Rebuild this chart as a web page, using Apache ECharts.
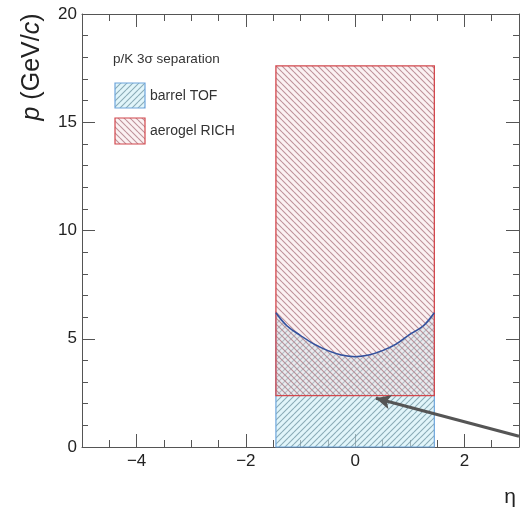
<!DOCTYPE html>
<html><head><meta charset="utf-8">
<script src="https://cdn.jsdelivr.net/npm/echarts@6/dist/echarts.min.js"></script>
<style>html,body{margin:0;padding:0;background:#fff}#c{width:520px;height:509px}</style>
</head><body><div id="c"></div>
<script>
// ---- data ----
const xRange = [-5, 3];
const yRange = [0, 20];
const xTickLabels = [-4, -2, 0, 2];
const yTickLabels = [0, 5, 10, 15, 20];
const etaEdges = [-1.45, 1.45];           // acceptance in eta
const richRange = [2.37, 17.6];           // aerogel RICH p range
const tofEta = [-1.45, -1.25, -1.0, -0.75, -0.5, -0.25, 0, 0.25, 0.5, 0.75, 1.0, 1.25, 1.45];
const tofP   = [6.2, 5.6, 5.15, 4.75, 4.45, 4.25, 4.17, 4.25, 4.45, 4.75, 5.2, 5.6, 6.2];
const arrowFrom = [3.0, 0.5];
const arrowTo = [0.38, 2.25];
const legendHeader = 'p/K 3σ separation';
const legendNames = ['barrel TOF', 'aerogel RICH'];

// ---- styling helpers ----
const FONT = "'Liberation Sans', Arial, Helvetica, sans-serif";
function hatch(dir, s, lineColor, bg, lw) {
  const c = document.createElement('canvas'); c.width = s; c.height = s;
  const g = c.getContext('2d');
  if (bg) { g.fillStyle = bg; g.fillRect(0, 0, s, s); }
  g.strokeStyle = lineColor; g.lineWidth = lw;
  g.beginPath();
  for (let k = -1; k <= 1; k++) {
    if (dir === 'back') { g.moveTo(0, k * s); g.lineTo(s, s + k * s); }
    else { g.moveTo(0, s + k * s); g.lineTo(s, k * s); }
  }
  g.stroke();
  return { image: c, repeat: 'repeat' };
}
const redFill = hatch('back', 6, 'rgba(170,115,125,0.75)', 'rgba(246,220,222,0.4)', 1.1);
const blueFill = hatch('fwd', 6, 'rgba(110,148,162,0.75)', 'rgba(205,238,246,0.6)', 1.1);
const redStroke = '#d2474c';
const blueStroke = '#6ea6dc';
const axisColor = '#555';

const gridA = { left: 82, right: 1, top: 14, bottom: 62 };
const unit = (520 - gridA.left - gridA.right) / (xRange[1] - xRange[0]);
const gridB = {
  left: gridA.left + (xTickLabels[0] - xRange[0]) * unit,
  right: gridA.right + (xRange[1] - xTickLabels[xTickLabels.length - 1]) * unit,
  top: 14, bottom: 62
};

const minus = v => String(v).replace('-', '\u2212');
const line = { onZero: false, lineStyle: { color: axisColor } };

const chart = echarts.init(document.getElementById('c'));
chart.setOption({
  animation: false,
  backgroundColor: '#fff',
  grid: [gridA, gridB],
  xAxis: [
    { gridIndex: 0, type: 'value', position: 'bottom', min: xRange[0], max: xRange[1], interval: 0.5,
      axisLine: line, axisTick: { inside: true, length: 7, lineStyle: { color: axisColor } },
      axisLabel: { show: false }, splitLine: { show: false } },
    { gridIndex: 0, type: 'value', position: 'top', min: xRange[0], max: xRange[1], interval: 0.5,
      axisLine: line, axisTick: { inside: true, length: 7, lineStyle: { color: axisColor } },
      axisLabel: { show: false }, splitLine: { show: false } },
    { gridIndex: 1, type: 'value', position: 'bottom', min: xTickLabels[0], max: xTickLabels[xTickLabels.length - 1], interval: 2,
      axisLine: { show: false, onZero: false }, axisTick: { show: true, inside: true, length: 13, lineStyle: { color: axisColor } },
      axisLabel: { show: true, fontSize: 17, color: '#222', fontFamily: FONT, margin: 6, formatter: minus },
      splitLine: { show: false } },
    { gridIndex: 1, type: 'value', position: 'top', min: xTickLabels[0], max: xTickLabels[xTickLabels.length - 1], interval: 2,
      axisLine: { show: false, onZero: false }, axisTick: { show: true, inside: true, length: 13, lineStyle: { color: axisColor } },
      axisLabel: { show: false }, splitLine: { show: false } }
  ],
  yAxis: [
    { gridIndex: 0, type: 'value', position: 'left', min: yRange[0], max: yRange[1], interval: 5,
      axisLine: Object.assign({ show: true }, line),
      axisTick: { show: true, inside: true, length: 13, lineStyle: { color: axisColor } },
      minorTick: { show: true, splitNumber: 5, length: 6, lineStyle: { color: axisColor } },
      axisLabel: { fontSize: 17, color: '#222', fontFamily: FONT, margin: 5,
        formatter: v => yTickLabels.includes(v) ? String(v) : '' },
      splitLine: { show: false } },
    { gridIndex: 0, type: 'value', position: 'right', min: yRange[0], max: yRange[1], interval: 5,
      axisLine: Object.assign({ show: true }, line),
      axisTick: { show: true, inside: true, length: 13, lineStyle: { color: axisColor } },
      minorTick: { show: true, splitNumber: 5, length: 6, lineStyle: { color: axisColor } },
      axisLabel: { show: false }, splitLine: { show: false } },
    { gridIndex: 1, type: 'value', show: false, min: yRange[0], max: yRange[1], axisLine: { onZero: false } }
  ],
  series: [
    { name: legendNames[0], type: 'custom', xAxisIndex: 0, yAxisIndex: 0, z: 2,
      data: [[etaEdges[0], 0]],
      renderItem: (params, api) => {
        const pts = [api.coord([etaEdges[0], 0])];
        tofEta.forEach((e, i) => pts.push(api.coord([e, tofP[i]])));
        pts.push(api.coord([etaEdges[1], 0]));
        return { type: 'polygon', shape: { points: pts },
          style: { fill: blueFill, stroke: blueStroke, lineWidth: 1.2 } };
      } },
    { name: legendNames[1], type: 'custom', xAxisIndex: 0, yAxisIndex: 0, z: 3,
      data: [[etaEdges[0], richRange[0], etaEdges[1], richRange[1]]],
      renderItem: (params, api) => {
        const a = api.coord([api.value(0), api.value(1)]);
        const b = api.coord([api.value(2), api.value(3)]);
        return { type: 'rect',
          shape: { x: a[0], y: b[1], width: b[0] - a[0], height: a[1] - b[1] },
          style: { fill: redFill, stroke: redStroke, lineWidth: 1.3 } };
      } },
    { type: 'line', xAxisIndex: 0, yAxisIndex: 0, z: 4,
      data: tofEta.map((e, i) => [e, tofP[i]]),
      smooth: 0.4, showSymbol: false, silent: true,
      lineStyle: { color: '#33509c', width: 1.5 },
      markLine: { silent: true, symbol: ['none', 'arrow'], symbolSize: [11, 15], animation: false,
        lineStyle: { color: '#555', width: 3, type: 'solid' }, label: { show: false },
        data: [[{ coord: arrowFrom }, { coord: arrowTo }]] } }
  ],
  graphic: [
    { type: 'text', x: 113, y: 59, style: { text: legendHeader, font: `13.5px ${FONT}`, fill: '#333', textVerticalAlign: 'middle' } },
    { type: 'rect', shape: { x: 115, y: 83, width: 30, height: 25 }, style: { fill: blueFill, stroke: blueStroke, lineWidth: 1.2 } },
    { type: 'text', x: 150, y: 96, style: { text: legendNames[0], font: `14px ${FONT}`, fill: '#333', textVerticalAlign: 'middle' } },
    { type: 'rect', shape: { x: 115, y: 118, width: 30, height: 26 }, style: { fill: redFill, stroke: redStroke, lineWidth: 1.2 } },
    { type: 'text', x: 150, y: 131, style: { text: legendNames[1], font: `14px ${FONT}`, fill: '#333', textVerticalAlign: 'middle' } },
    { type: 'text', x: 32, y: 67, rotation: Math.PI / 2,
      style: { text: '{i|p} (GeV/{i|c})', font: `25px ${FONT}`, fill: '#222', textAlign: 'center', textVerticalAlign: 'middle',
        rich: { i: { fontStyle: 'italic', fontSize: 25, fontFamily: FONT } } } },
    { type: 'text', x: 510, y: 497, style: { text: 'η', font: `21px ${FONT}`, fill: '#222', textAlign: 'center', textVerticalAlign: 'middle' } }
  ]
});
</script>
</body></html>
